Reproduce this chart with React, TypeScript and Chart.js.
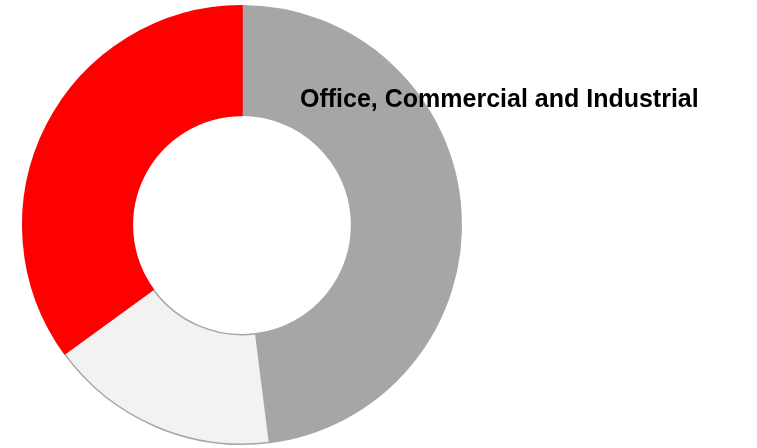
import React, { useEffect, useRef } from "react";
import { Chart, registerables } from "chart.js";

Chart.register(...registerables);

const categories = ["Office", "Commercial", "Industrial"];
const shares = [48, 17, 35];
const sliceColors = ["#A6A6A6", "#F2F2F2", "#FF0000"];
const sliceBorders = ["#A6A6A6", "#A6A6A6", "#FF0000"];
const titleText = "Office, Commercial and Industrial";

export default function App() {
  const ref = useRef<HTMLCanvasElement | null>(null);

  useEffect(() => {
    if (!ref.current) return;
    const titlePlugin = {
      id: "titleText",
      afterDraw(chart: any) {
        const ctx = chart.ctx;
        ctx.save();
        ctx.font = "bold 25px 'Liberation Sans', Arial, sans-serif";
        ctx.fillStyle = "#000000";
        ctx.textAlign = "left";
        ctx.textBaseline = "alphabetic";
        ctx.fillText(titleText, 300, 107);
        ctx.restore();
      },
    };
    const chart = new Chart(ref.current, {
      type: "doughnut",
      data: {
        labels: categories,
        datasets: [
          {
            data: shares,
            backgroundColor: sliceColors,
            borderColor: sliceBorders,
            borderWidth: 1.5,
          },
        ],
      },
      options: {
        animation: false,
        responsive: true,
        maintainAspectRatio: false,
        cutout: "50%",
        layout: { padding: { left: 22, top: 5, right: 295, bottom: 3 } },
        plugins: {
          legend: { display: false },
          tooltip: { enabled: false },
          title: { display: false },
        },
      },
      plugins: [titlePlugin],
    });
    return () => chart.destroy();
  }, []);

  return (
    <div style={{ position: "fixed", left: 0, top: 0, width: 757, height: 448, background: "#fff" }}>
      <canvas ref={ref} />
    </div>
  );
}
